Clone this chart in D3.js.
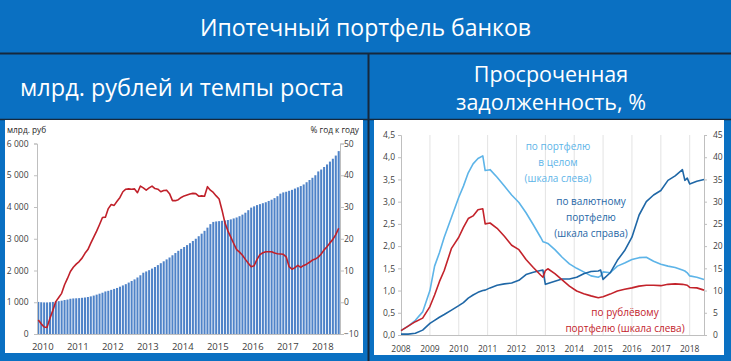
<!DOCTYPE html>
<html><head><meta charset="utf-8">
<script src="https://cdn.jsdelivr.net/npm/d3@7"></script>
<style>
html,body{margin:0;padding:0;background:#0a70c2;}
svg{display:block;font-family:"Open Sans",sans-serif;}
</style></head>
<body><svg id="c" width="731" height="361"></svg>
<script>
// ---------- LEFT CHART DATA (monthly, Jan 2010 .. Aug 2018) ----------
const portfolio = [ // млрд. руб
  1010,1000,995,995,1000,1010,1020,1035,1050,1070,1085,1110,
  1120,1125,1130,1140,1150,1165,1185,1210,1240,1270,1300,1340,
  1360,1390,1420,1450,1490,1530,1570,1620,1670,1720,1780,1850,
  1930,1970,2010,2060,2110,2170,2230,2290,2350,2410,2480,2550,
  2620,2680,2740,2800,2860,2930,3000,3080,3160,3250,3350,3460,
  3530,3545,3555,3565,3575,3590,3610,3640,3670,3710,3760,3820,
  3900,3980,4020,4060,4090,4120,4150,4190,4230,4280,4340,4420,
  4460,4480,4510,4540,4580,4620,4660,4710,4780,4850,4920,5000,
  5120,5180,5260,5340,5430,5520,5620,5760
];
const growth = [ // % год к году
  -5.6,-6.8,-7.8,-7.9,-5.0,-2.5,0.2,1.5,2.8,5.5,7.5,9.7,
  11.0,12.0,12.8,13.9,15.4,16.6,18.6,20.5,22.4,24.5,26.7,26.8,
  29.5,30.8,30.5,31.8,33.0,34.8,35.6,35.7,35.6,35.7,34.5,36.6,
  36.0,35.3,36.0,36.6,35.8,35.6,34.8,35.2,35.3,34.2,32.0,32.0,
  32.3,33.0,33.5,33.8,34.1,34.3,34.2,33.4,33.5,33.4,36.4,35.3,
  34.6,33.5,32.5,29.0,25.0,22.5,20.5,18.5,16.6,15.8,14.8,13.5,
  12.3,11.2,11.5,13.5,15.0,15.6,15.9,15.9,15.9,15.5,15.3,15.2,
  15.1,14.3,11.2,10.4,10.9,11.6,11.0,11.6,12.0,12.6,13.3,13.6,
  14.2,15.2,16.5,17.5,18.7,19.8,21.3,23.3
];
const leftYears = [2010,2011,2012,2013,2014,2015,2016,2017,2018];
const leftTicks = [0,1000,2000,3000,4000,5000,6000];
const rightTicks = [-10,0,10,20,30,40,50];

// ---------- RIGHT CHART DATA ----------
const dates = ["2008-01","2008-04","2008-07","2008-10","2009-01","2009-03","2009-05","2009-07","2009-10",
  "2010-01","2010-03","2010-05","2010-07","2010-09","2010-11","2010-12","2011-02","2011-05","2011-08","2011-11",
  "2012-02","2012-05","2012-08","2012-11","2012-12","2013-01","2013-02","2013-05","2013-08","2013-11",
  "2014-02","2014-05","2014-08","2014-11","2014-12","2015-01","2015-04","2015-07","2015-10",
  "2016-01","2016-04","2016-07","2016-10","2017-01","2017-04","2017-07","2017-10","2017-11","2017-12",
  "2018-01","2018-04","2018-07"];
const overdueTotal = [0.10,0.20,0.33,0.52,1.00,1.55,1.85,2.20,2.65,
  3.10,3.35,3.65,3.85,3.97,4.03,3.70,3.72,3.55,3.35,3.15,
  2.98,2.75,2.48,2.20,2.10,2.08,2.06,1.92,1.75,1.60,
  1.50,1.42,1.33,1.30,1.33,1.42,1.40,1.55,1.62,
  1.70,1.74,1.75,1.66,1.59,1.55,1.52,1.46,1.44,1.40,
  1.33,1.30,1.25];
const overdueRub = [0.10,0.20,0.30,0.38,0.64,0.90,1.20,1.45,1.95,
  2.20,2.42,2.62,2.68,2.82,2.84,2.50,2.52,2.40,2.22,2.02,
  1.92,1.70,1.52,1.35,1.30,1.45,1.49,1.38,1.24,1.10,
  0.99,0.93,0.88,0.84,0.85,0.86,0.92,0.99,1.03,
  1.06,1.10,1.12,1.12,1.11,1.14,1.15,1.14,1.13,1.12,
  1.07,1.06,1.01];
const overdueFx = [0.2,0.2,0.4,1.1,2.6,3.3,4.0,4.6,5.6,
  6.6,7.3,8.3,9.0,9.6,10.0,10.1,10.6,11.2,11.5,11.7,
  12.3,13.6,14.1,14.5,14.6,11.4,11.6,12.1,12.6,12.6,
  13.0,13.8,14.3,14.4,14.6,12.5,14.0,16.8,19.0,
  22.0,27.0,30.0,31.5,32.5,34.8,35.8,37.2,34.8,35.3,
  34.0,34.6,35.0];
const rLeftTicks = [0,0.5,1,1.5,2,2.5,3,3.5,4,4.5];
const rRightTicks = [0,5,10,15,20,25,30,35,40,45];
const rYears = [2008,2009,2010,2011,2012,2013,2014,2015,2016,2017,2018];

const svg = d3.select("#c");
const dark = "#16283c";

// ---------- frame ----------
svg.append("rect").attr("x",0).attr("y",0).attr("width",731).attr("height",361).attr("fill","#0a70c2");
svg.append("text").attr("x",365.5).attr("y",36).attr("text-anchor","middle").attr("fill","#fff")
  .attr("font-size",23).text("Ипотечный портфель банков");
svg.append("text").attr("x",182).attr("y",96).attr("text-anchor","middle").attr("fill","#fff")
  .attr("font-size",23.5).text("млрд. рублей и темпы роста");
svg.append("text").attr("x",551).attr("y",82).attr("text-anchor","middle").attr("fill","#fff")
  .attr("font-size",21.5).text("Просроченная");
svg.append("text").attr("x",551).attr("y",110).attr("text-anchor","middle").attr("fill","#fff")
  .attr("font-size",21.5).text("задолженность, %");
svg.append("line").attr("x1",0).attr("x2",731).attr("y1",53.5).attr("y2",53.5).attr("stroke",dark).attr("stroke-width",2);
svg.append("line").attr("x1",368.5).attr("x2",368.5).attr("y1",53).attr("y2",361).attr("stroke",dark).attr("stroke-width",2);
svg.append("line").attr("x1",0).attr("x2",731).attr("y1",119.5).attr("y2",119.5).attr("stroke",dark).attr("stroke-width",1.5);

// white panels
svg.append("rect").attr("x",5).attr("y",120).attr("width",358).attr("height",233).attr("fill","#fff");
svg.append("rect").attr("x",374).attr("y",120).attr("width",350).attr("height",235).attr("fill","#fff");

const txt = "#404040";

// ---------- LEFT CHART ----------
const months = portfolio.map((d,i)=>i);
const xL = d3.scaleBand().domain(months).range([37,340]).paddingInner(0.3).paddingOuter(0.1);
const yL = d3.scaleLinear().domain([0,6000]).range([334,143.5]);
const yR = d3.scaleLinear().domain([-10,50]).range([334,143.5]);

const gL = svg.append("g");
gL.selectAll("rect.bar").data(portfolio).join("rect").attr("class","bar")
  .attr("x",(d,i)=>xL(i)).attr("width",xL.bandwidth())
  .attr("y",d=>yL(d)).attr("height",d=>yL(0)-yL(d)).attr("fill","#4f83c8");

const fmtSp = d => d3.format(",")(d).replace(/,/g," ");
const axL = gL.append("g").attr("transform","translate(37,0)")
  .call(d3.axisLeft(yL).tickValues(leftTicks).tickSize(3).tickFormat(fmtSp));
const axR = gL.append("g").attr("transform","translate(340,0)")
  .call(d3.axisRight(yR).tickValues(rightTicks).tickSize(4).tickFormat(d3.format("d")));
[axL,axR].forEach(a=>{
  a.select(".domain").attr("stroke","#bfbfbf");
  a.selectAll(".tick line").attr("stroke","#bfbfbf");
  a.selectAll("text").attr("fill",txt).attr("font-size",8.5).attr("font-family","Open Sans");
});
axL.selectAll("text").attr("x",-8.5);
axR.selectAll("text").attr("x",4);
gL.append("line").attr("x1",37).attr("x2",340).attr("y1",334.5).attr("y2",334.5).attr("stroke","#bfbfbf");

gL.selectAll("text.yr").data(leftYears).join("text").attr("class","yr")
  .attr("x",d=>xL((d-2010)*12)+xL.bandwidth()/2+4.5).attr("y",350)
  .attr("text-anchor","middle").attr("fill",txt).attr("font-size",9.5).text(d=>d);

const lineL = d3.line().x((d,i)=>xL(i)+xL.bandwidth()/2).y(d=>yR(d));
gL.append("path").datum(growth).attr("d",lineL).attr("fill","none")
  .attr("stroke","#c0202a").attr("stroke-width",1.6).attr("stroke-linejoin","round");

gL.append("text").attr("x",7).attr("y",133).attr("fill","#262626").attr("font-size",8.3).text("млрд. руб");
gL.append("text").attr("x",359).attr("y",133).attr("text-anchor","end").attr("fill","#262626").attr("font-size",8.3).text("% год к году");

// ---------- RIGHT CHART ----------
const parse = d3.timeParse("%Y-%m");
const dts = dates.map(parse);
const xT = d3.scaleTime().domain([new Date(2008,0,1), new Date(2018,6,1)]).range([401,704]);
const yA = d3.scaleLinear().domain([0,4.5]).range([335,135]);
const yB = d3.scaleLinear().domain([0,45]).range([335,135]);
const gR = svg.append("g");

gR.selectAll("line.grid").data(rYears.slice(1)).join("line").attr("class","grid")
  .attr("x1",d=>xT(new Date(d,0,1))).attr("x2",d=>xT(new Date(d,0,1)))
  .attr("y1",135).attr("y2",335).attr("stroke","#e3e3e3").attr("stroke-width",1);

const fmtC = d => d3.format(".1f")(d).replace(".",",");
const aA = gR.append("g").attr("transform","translate(401,0)")
  .call(d3.axisLeft(yA).tickValues(rLeftTicks).tickSize(3).tickFormat(fmtC));
const aB = gR.append("g").attr("transform","translate(704,0)")
  .call(d3.axisRight(yB).tickValues(rRightTicks).tickSize(3).tickFormat(d3.format("d")));
[aA,aB].forEach(a=>{
  a.select(".domain").attr("stroke","#bfbfbf");
  a.selectAll(".tick line").attr("stroke","#bfbfbf");
  a.selectAll("text").attr("fill",txt).attr("font-size",8.5).attr("font-family","Open Sans");
});
aB.selectAll("text").attr("x",9);
gR.append("line").attr("x1",401).attr("x2",704).attr("y1",335.5).attr("y2",335.5).attr("stroke","#bfbfbf");
gR.selectAll("text.yr").data(rYears).join("text").attr("class","yr")
  .attr("x",d=>xT(new Date(d,0,1))).attr("y",352).attr("text-anchor","middle")
  .attr("fill",txt).attr("font-size",8.5).text(d=>d);

const mk = (vals, y, color) => {
  const ln = d3.line().x((d,i)=>xT(dts[i])).y(d=>y(d));
  gR.append("path").datum(vals).attr("d",ln).attr("fill","none").attr("stroke",color)
    .attr("stroke-width",1.6).attr("stroke-linejoin","round");
};
mk(overdueTotal, yA, "#5db4e8");
mk(overdueFx, yB, "#1f67a6");
mk(overdueRub, yA, "#c3232b");

const ann = (lines, x, y0, color) => {
  lines.forEach((t,i)=>gR.append("text").attr("x",x).attr("y",y0+i*16).attr("text-anchor","middle")
    .attr("fill",color).attr("font-size",10).text(t));
};
ann(["по портфелю","в целом","(шкала слева)"], 558, 150, "#5db4e8");
ann(["по валютному","портфелю","(шкала справа)"], 591, 205, "#1f67a6");
ann(["по рублёвому","портфелю (шкала слева)"], 625, 316, "#c3232b");
</script></body></html>
